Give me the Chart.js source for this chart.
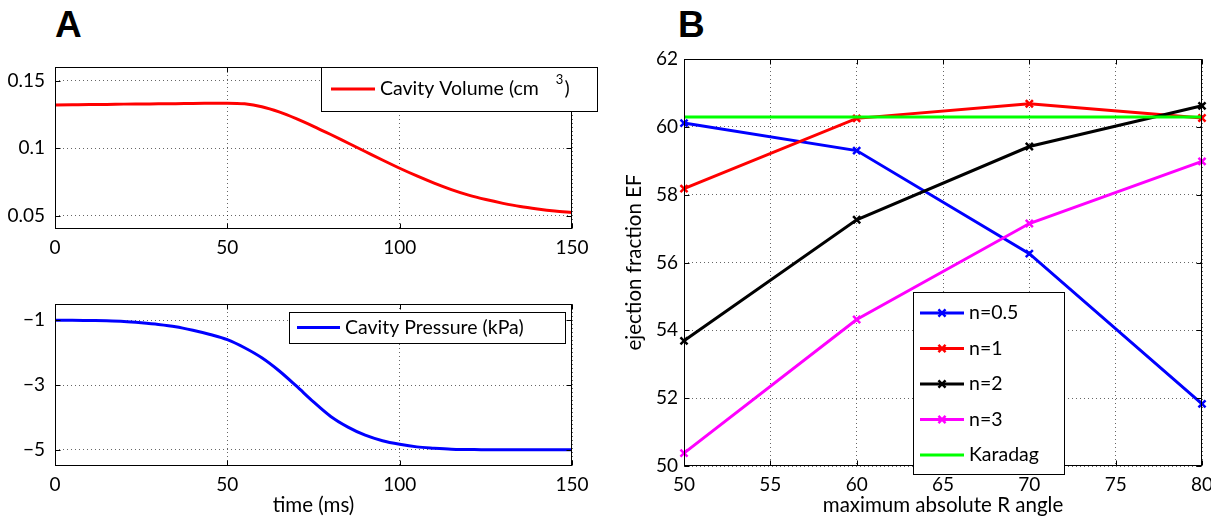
<!DOCTYPE html>
<html>
<head>
<meta charset="utf-8">
<script src="https://cdn.jsdelivr.net/npm/chart.js@4"></script>
<style>
  body { margin: 0; background: #fff; width: 1211px; height: 518px; overflow: hidden; position: relative; }
  canvas { position: absolute; }
  .panel { position: absolute; font: bold 37px "Liberation Sans", Arial, sans-serif; line-height: 37px; }
</style>
</head>
<body>
<div class="panel" style="left:55px;top:6px">A</div>
<div class="panel" style="left:678px;top:6px">B</div>
<canvas id="vol" width="600" height="270" style="left:0;top:0"></canvas>
<canvas id="pres" width="600" height="248" style="left:0;top:270px"></canvas>
<canvas id="ef" width="640" height="518" style="left:600px;top:0"></canvas>
<script>
// panel A data (time in ms)
const timeMs = [0, 5, 10, 15, 20, 25, 30, 35, 40, 45, 50, 55, 60, 65, 70, 75,
  80, 85, 90, 95, 100, 105, 110, 115, 120, 125, 130, 135, 140, 145, 150];
const cavityVolume = [0.1318, 0.1320, 0.1322, 0.1323, 0.1325, 0.1326, 0.1327, 0.1328, 0.1330, 0.1331,
  0.1332, 0.1327, 0.1306, 0.1268, 0.1218, 0.1161, 0.1100, 0.1037, 0.0974, 0.0911,
  0.0850, 0.0793, 0.0740, 0.0692, 0.0651, 0.0618, 0.0590, 0.0566, 0.0548, 0.0533, 0.0522];
const cavityPressure = [-1.00, -1.00, -1.01, -1.02, -1.04, -1.08, -1.13, -1.20, -1.31, -1.44,
  -1.60, -1.85, -2.16, -2.56, -3.03, -3.52, -3.97, -4.30, -4.55, -4.72,
  -4.83, -4.91, -4.95, -4.98, -4.99, -5.00, -5.00, -5.00, -5.00, -5.00, -5.00];
const timeTicks = [0, 50, 100, 150];
const volTicks = [0.05, 0.1, 0.15];
const presTicks = [-5, -3, -1];

// panel B data
const rAngle = [50, 60, 70, 80];
const efN05 = [60.11, 59.30, 56.26, 51.83];
const efN1 = [58.18, 60.25, 60.68, 60.26];
const efN2 = [53.69, 57.26, 59.42, 60.62];
const efN3 = [50.38, 54.32, 57.15, 58.98];
const efKaradag = [60.29, 60.29, 60.29, 60.29];
const efLabels = ['n=0.5', 'n=1', 'n=2', 'n=3', 'Karadag'];
const efColors = ['#0000ff', '#ff0000', '#000000', '#ff00ff', '#00ff00'];

const FONT = 'Lato';
Chart.defaults.font.family = FONT;
Chart.defaults.font.size = 19;
Chart.defaults.color = '#000';
const titleFont = { size: 20.5 };
const legendSize = 19.5;

const xy = (xs, ys) => xs.map((x, i) => ({x: x, y: ys[i]}));
const minus = v => String(v).replace('-', '\u2212');

const grid = { color: 'rgba(0,0,0,0.6)', lineWidth: 1, drawTicks: false };
const border = { display: false, dash: [1, 3] };

// full box round the axes plus inward tick marks
const boxPlugin = {
  id: 'box',
  afterDatasetsDraw(chart) {
    const {ctx, chartArea: a} = chart;
    const l = Math.round(a.left) + 0.5, t = Math.round(a.top) + 0.5;
    const r = Math.round(a.right) - 0.5, b = Math.round(a.bottom) - 0.5;
    ctx.save();
    ctx.strokeStyle = '#000';
    ctx.lineWidth = 1;
    ctx.beginPath();
    chart.scales.x.ticks.forEach(tk => {
      const px = Math.round(chart.scales.x.getPixelForValue(tk.value)) + 0.5;
      ctx.moveTo(px, b); ctx.lineTo(px, b - 5);
      ctx.moveTo(px, t); ctx.lineTo(px, t + 5);
    });
    chart.scales.y.ticks.forEach(tk => {
      const py = Math.round(chart.scales.y.getPixelForValue(tk.value)) + 0.5;
      ctx.moveTo(l, py); ctx.lineTo(l + 5, py);
      ctx.moveTo(r, py); ctx.lineTo(r - 5, py);
    });
    ctx.stroke();
    ctx.strokeRect(l, t, r - l, b - t);
    ctx.restore();
  }
};

// MATLAB style boxed legend
const boxLegend = {
  id: 'boxLegend',
  afterDraw(chart, args, o) {
    const ctx = chart.ctx;
    ctx.save();
    ctx.fillStyle = '#fff';
    ctx.fillRect(o.x, o.y, o.w, o.h);
    ctx.strokeStyle = '#000';
    ctx.lineWidth = 1;
    ctx.strokeRect(o.x + 0.5, o.y + 0.5, o.w, o.h);
    ctx.textBaseline = 'middle';
    chart.data.datasets.forEach((ds, i) => {
      const ly = o.y + o.first + i * o.step;
      ctx.strokeStyle = ds.borderColor;
      ctx.lineWidth = ds.borderWidth;
      ctx.beginPath();
      ctx.moveTo(o.x + o.lineX0, ly);
      ctx.lineTo(o.x + o.lineX1, ly);
      ctx.stroke();
      if (ds.pointRadius > 0) {
        ctx.lineWidth = ds.pointBorderWidth;
        Chart.helpers.drawPoint(ctx, {pointStyle: 'crossRot', radius: ds.pointRadius, borderWidth: ds.pointBorderWidth},
          o.x + (o.lineX0 + o.lineX1) / 2, ly);
      }
      ctx.fillStyle = '#000';
      ctx.font = legendSize + 'px ' + FONT;
      const parts = ds.label.split('\u00b3');
      let tx = o.x + o.textX;
      ctx.fillText(parts[0], tx, ly);
      if (parts.length > 1) {
        tx += ctx.measureText(parts[0]).width + 17;
        ctx.font = '13px ' + FONT;
        ctx.fillText('3', tx, ly - 9);
        tx += ctx.measureText('3').width + 1;
        ctx.font = legendSize + 'px ' + FONT;
        ctx.fillText(parts[1], tx, ly);
      }
    });
    ctx.restore();
  }
};

function curveChart(id, values, color, label, yMin, yMax, yTicks, pad, xHeight, legend, xTitle) {
  return new Chart(document.getElementById(id), {
    type: 'line',
    data: {
      datasets: [{
        label: label,
        data: xy(timeMs, values),
        borderColor: color,
        borderWidth: 3,
        pointRadius: 0,
        cubicInterpolationMode: 'monotone',
        clip: false
      }]
    },
    options: {
      responsive: false,
      animation: false,
      devicePixelRatio: 1,
      layout: { padding: pad },
      plugins: { legend: { display: false }, tooltip: { enabled: false }, boxLegend: legend },
      scales: {
        x: {
          type: 'linear', min: 0, max: 150,
          afterBuildTicks: s => { s.ticks = timeTicks.map(v => ({value: v})); },
          afterFit: s => { s.height = xHeight; },
          grid: grid, border: border,
          ticks: { padding: 7, maxRotation: 0 },
          title: { display: !!xTitle, text: xTitle || '', padding: 0, font: titleFont }
        },
        y: {
          min: yMin, max: yMax,
          afterBuildTicks: s => { s.ticks = yTicks.map(v => ({value: v})); },
          afterFit: s => { s.width = 55; },
          grid: grid, border: border,
          ticks: { padding: 10, callback: v => minus(v) }
        }
      }
    },
    plugins: [boxPlugin, boxLegend]
  });
}

curveChart('vol', cavityVolume, '#ff0000', 'Cavity Volume (cm\u00b3)', 0.04, 0.16, volTicks,
  {top: 67, right: 28, left: 0, bottom: 0}, 41,
  {x: 321, y: 67, w: 276, h: 44, first: 22, step: 0, lineX0: 10, lineX1: 54, textX: 59});

curveChart('pres', cavityPressure, '#0000ff', 'Cavity Pressure (kPa)', -5.5, -0.5, presTicks,
  {top: 34, right: 28, left: 0, bottom: 0}, 52,
  {x: 289, y: 42, w: 276, h: 31, first: 15.5, step: 0, lineX0: 8, lineX1: 51, textX: 56}, 'time (ms)');

const efSeries = [efN05, efN1, efN2, efN3, efKaradag];
new Chart(document.getElementById('ef'), {
  type: 'line',
  data: {
    datasets: efSeries.map((vals, i) => ({
      label: efLabels[i],
      data: xy(rAngle, vals),
      borderColor: efColors[i],
      backgroundColor: efColors[i],
      borderWidth: 3,
      pointStyle: 'crossRot',
      pointRadius: i === 4 ? 0 : 5,
      pointBorderWidth: 2.5,
      pointBorderColor: efColors[i],
      tension: 0,
      clip: false,
      order: 5 - i
    }))
  },
  options: {
    responsive: false,
    animation: false,
    devicePixelRatio: 1,
    layout: { padding: {top: 59, right: 38, left: 0, bottom: 0} },
    plugins: {
      legend: { display: false }, tooltip: { enabled: false },
      boxLegend: {x: 313, y: 292, w: 151, h: 182, first: 21, step: 35.5, lineX0: 7, lineX1: 51, textX: 56}
    },
    scales: {
      x: {
        type: 'linear', min: 50, max: 80,
        afterFit: s => { s.height = 52; },
        grid: grid, border: border,
        ticks: { stepSize: 5, padding: 7, maxRotation: 0 },
        title: { display: true, text: 'maximum absolute R angle', padding: 0, font: titleFont }
      },
      y: {
        min: 50, max: 62,
        afterFit: s => { s.width = 84; },
        grid: grid, border: border,
        ticks: { stepSize: 2, padding: 6 },
        title: { display: true, text: 'ejection fraction EF', padding: {top: 22, bottom: 0}, font: titleFont }
      }
    }
  },
  plugins: [boxPlugin, boxLegend]
});
</script>
</body>
</html>
